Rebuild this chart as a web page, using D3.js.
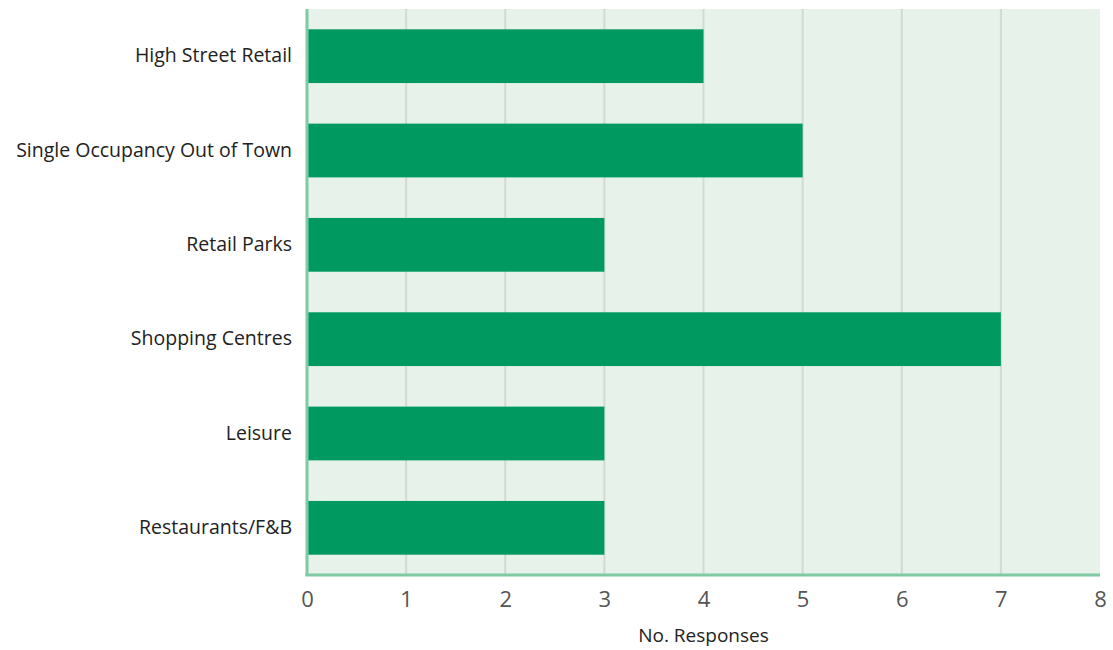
<!DOCTYPE html>
<html>
<head>
<meta charset="utf-8">
<script src="https://cdn.jsdelivr.net/npm/d3@7/dist/d3.min.js"></script>
<style>
  html, body { margin: 0; padding: 0; background: #ffffff; }
  svg { display: block; }
</style>
</head>
<body>
<svg id="chart" width="1113" height="650"></svg>
<script>
// Survey responses by property sector
const categories = ["High Street Retail", "Single Occupancy Out of Town", "Retail Parks", "Shopping Centres", "Leisure", "Restaurants/F&B"];
const responses = [4, 5, 3, 7, 3, 3];
const xTicks = [0, 1, 2, 3, 4, 5, 6, 7, 8];
const xTitle = "No. Responses";

const svg = d3.select("#chart");
const margin = { top: 9, right: 13, bottom: 75, left: 307 };
const W = 1113, H = 650;
const innerW = W - margin.left - margin.right;
const innerH = H - margin.top - margin.bottom;

const font = "'Open Sans', 'Noto Sans', sans-serif";

const x = d3.scaleLinear().domain([0, 8]).range([0, innerW]);
const y = d3.scaleBand().domain(categories).range([0, innerH])
  .paddingInner(0.43).paddingOuter(0.215);

const g = svg.append("g").attr("transform", `translate(${margin.left},${margin.top})`);

// plot background
g.append("rect")
  .attr("x", 0).attr("y", 0)
  .attr("width", innerW).attr("height", innerH)
  .attr("fill", "#e7f2ea");

// vertical gridlines
g.append("g")
  .selectAll("line")
  .data(xTicks.filter(d => d > 0 && d < 8))
  .join("line")
  .attr("x1", d => x(d)).attr("x2", d => x(d))
  .attr("y1", 0).attr("y2", innerH)
  .attr("stroke", "#d3d9d4")
  .attr("stroke-width", 2);

// bars
g.append("g")
  .selectAll("rect")
  .data(categories)
  .join("rect")
  .attr("x", 0)
  .attr("y", d => y(d))
  .attr("width", (d, i) => x(responses[i]))
  .attr("height", y.bandwidth())
  .attr("fill", "#009a61");

// axis lines
g.append("line")
  .attr("x1", 0).attr("x2", 0).attr("y1", 0).attr("y2", innerH + 1)
  .attr("stroke", "#7fcaa2").attr("stroke-width", 3);
g.append("line")
  .attr("x1", -1.5).attr("x2", innerW).attr("y1", innerH).attr("y2", innerH)
  .attr("stroke", "#7fcaa2").attr("stroke-width", 3);

// x axis tick labels
const xAxis = d3.axisBottom(x).tickValues(xTicks).tickSize(0).tickPadding(0).tickFormat(d3.format("d"));
const xg = g.append("g").attr("transform", `translate(0,${innerH})`).call(xAxis);
xg.select(".domain").remove();
xg.selectAll("text")
  .attr("y", 0)
  .attr("dy", 0)
  .attr("transform", "translate(0,32)")
  .attr("font-family", font)
  .attr("font-size", 22)
  .attr("fill", "#555555");

// y axis category labels
const yAxis = d3.axisLeft(y).tickSize(0).tickPadding(15);
const yg = g.append("g").call(yAxis);
yg.select(".domain").remove();
yg.selectAll("text")
  .attr("font-family", font)
  .attr("font-size", 19.5)
  .attr("fill", "#222222");

// x axis title
g.append("text")
  .attr("x", innerW / 2)
  .attr("y", innerH + 67)
  .attr("text-anchor", "middle")
  .attr("font-family", font)
  .attr("font-size", 19)
  .attr("fill", "#222222")
  .text(xTitle);
</script>
</body>
</html>
